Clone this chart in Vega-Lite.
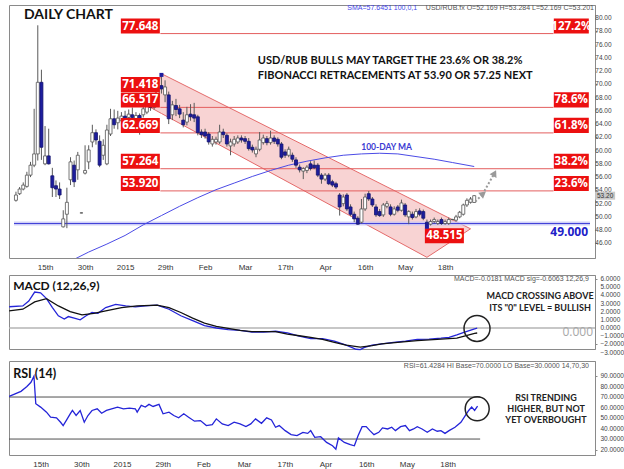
{
  "$schema": "https://vega.github.io/schema/vega-lite/v6.json",
  "background": "white",
  "padding": {"left": 6, "top": 3, "right": 0, "bottom": 0},
  "bounds": "flush",
  "spacing": 17,
  "config": {
    "view": {"stroke": "#8a8a8a", "strokeWidth": 1},
    "axis": {"labelFont": "Liberation Sans", "labelColor": "#444444", "domainColor": "#8a8a8a", "tickColor": "#8a8a8a", "grid": false, "title": null, "labelOverlap": false},
    "text": {"font": "Lato"}
  },
  "datasets": {
    "one": [{}],
    "ticksMain": [{"t":46},{"t":48},{"t":50},{"t":52},{"t":54},{"t":56},{"t":58},{"t":60},{"t":62},{"t":64},{"t":66},{"t":68},{"t":70},{"t":72},{"t":74},{"t":76},{"t":78},{"t":80}],
    "ticksMacd": [{"t":-3},{"t":-2},{"t":-1},{"t":0},{"t":1},{"t":2},{"t":3},{"t":4},{"t":5},{"t":6}],
    "ticksRsi": [{"t":20},{"t":30},{"t":40},{"t":50},{"t":60},{"t":70},{"t":80},{"t":90}],
    "candles": [
      {"i":0,"o":52.5,"h":53.8,"l":52.3,"c":53.3},{"i":1,"o":53.5,"h":54.5,"l":53.3,"c":54.2},{"i":2,"o":54.2,"h":55.2,"l":54.0,"c":54.8},{"i":3,"o":54.6,"h":56.8,"l":54.4,"c":56.3},{"i":4,"o":56.3,"h":58.3,"l":56.0,"c":57.8},{"i":5,"o":57.8,"h":66.3,"l":57.5,"c":59.5},{"i":6,"o":59.5,"h":78.9,"l":58.5,"c":70.3},{"i":7,"o":70.3,"h":72.2,"l":58.6,"c":60.5},{"i":8,"o":58.0,"h":63.7,"l":57.8,"c":59.2},{"i":9,"o":59.2,"h":63.3,"l":57.9,"c":58.0},
      {"i":10,"o":56.2,"h":57.4,"l":53.0,"c":54.4},{"i":11,"o":54.7,"h":55.5,"l":53.0,"c":54.2},{"i":12,"o":54.2,"h":55.2,"l":52.7,"c":53.3},{"i":13,"o":48.5,"h":51.0,"l":48.4,"c":49.7},{"i":14,"o":50.4,"h":54.4,"l":48.3,"c":52.2},{"i":15,"o":55.6,"h":59.0,"l":54.8,"c":58.3},{"i":16,"o":57.8,"h":58.5,"l":54.5,"c":55.3},{"i":17,"o":57.1,"h":59.8,"l":55.6,"c":59.3},{"i":18,"o":50.6,"h":50.65,"l":50.55,"c":50.6},{"i":19,"o":56.6,"h":60.8,"l":56.4,"c":57.0},
      {"i":20,"o":58.3,"h":60.8,"l":57.2,"c":60.1},{"i":21,"o":61.3,"h":63.9,"l":60.5,"c":62.7},{"i":22,"o":62.7,"h":63.2,"l":60.9,"c":61.6},{"i":23,"o":61.4,"h":62.3,"l":57.5,"c":57.8},{"i":24,"o":59.3,"h":61.7,"l":58.6,"c":60.8},{"i":25,"o":58.0,"h":63.9,"l":57.8,"c":63.1},{"i":26,"o":62.5,"h":66.3,"l":62.2,"c":64.8},{"i":27,"o":64.8,"h":66.2,"l":63.3,"c":63.9},{"i":28,"o":64.2,"h":66.0,"l":63.2,"c":64.9},{"i":29,"o":64.5,"h":65.8,"l":63.8,"c":65.2},
      {"i":30,"o":65.2,"h":66.0,"l":64.2,"c":64.8},{"i":31,"o":65.0,"h":66.2,"l":64.5,"c":65.5},{"i":32,"o":65.4,"h":66.5,"l":63.0,"c":65.0},{"i":33,"o":64.8,"h":65.8,"l":64.0,"c":65.3},{"i":34,"o":65.3,"h":65.6,"l":62.4,"c":64.5},{"i":35,"o":65.4,"h":66.8,"l":65.0,"c":66.3},{"i":36,"o":65.8,"h":67.8,"l":65.5,"c":67.3},{"i":37,"o":67.0,"h":67.8,"l":66.0,"c":66.5},{"i":38,"o":66.5,"h":68.5,"l":66.2,"c":68.0},{"i":39,"o":68.0,"h":70.3,"l":67.6,"c":69.5},
      {"i":40,"o":69.8,"h":71.418,"l":68.6,"c":69.3},{"i":41,"o":68.4,"h":70.6,"l":67.3,"c":69.6},{"i":42,"o":68.4,"h":68.9,"l":64.0,"c":64.8},{"i":43,"o":65.4,"h":67.5,"l":64.6,"c":66.9},{"i":44,"o":66.8,"h":67.8,"l":65.2,"c":66.2},{"i":45,"o":66.3,"h":66.9,"l":64.9,"c":65.5},{"i":46,"o":64.6,"h":65.8,"l":63.5,"c":63.9},{"i":47,"o":64.3,"h":66.6,"l":63.8,"c":65.4},{"i":48,"o":65.5,"h":67.0,"l":64.5,"c":65.1},{"i":49,"o":65.4,"h":67.2,"l":64.3,"c":64.9},
      {"i":50,"o":65.1,"h":65.4,"l":62.3,"c":62.7},{"i":51,"o":62.8,"h":63.2,"l":61.9,"c":62.4},{"i":52,"o":62.8,"h":63.3,"l":61.8,"c":62.2},{"i":53,"o":62.5,"h":62.8,"l":60.9,"c":61.3},{"i":54,"o":61.0,"h":62.2,"l":60.6,"c":61.7},{"i":55,"o":61.3,"h":62.1,"l":60.9,"c":61.7},{"i":56,"o":61.3,"h":63.9,"l":61.0,"c":62.8},{"i":57,"o":62.8,"h":63.3,"l":61.9,"c":62.4},{"i":58,"o":62.3,"h":62.6,"l":60.6,"c":61.0},{"i":59,"o":60.7,"h":61.8,"l":59.3,"c":61.3},
      {"i":60,"o":61.0,"h":62.2,"l":60.6,"c":61.7},{"i":61,"o":61.3,"h":62.3,"l":61.0,"c":61.9},{"i":62,"o":61.9,"h":62.3,"l":61.2,"c":61.6},{"i":63,"o":61.8,"h":62.2,"l":61.0,"c":61.4},{"i":64,"o":61.4,"h":61.9,"l":60.0,"c":60.3},{"i":65,"o":60.5,"h":60.9,"l":59.7,"c":60.1},{"i":66,"o":59.5,"h":60.6,"l":59.0,"c":60.2},{"i":67,"o":60.2,"h":62.8,"l":59.9,"c":61.6},{"i":68,"o":61.2,"h":62.4,"l":60.9,"c":61.9},{"i":69,"o":61.8,"h":62.2,"l":60.8,"c":61.2},
      {"i":70,"o":61.2,"h":63.0,"l":60.9,"c":61.9},{"i":71,"o":61.9,"h":62.3,"l":61.0,"c":61.4},{"i":72,"o":61.7,"h":62.0,"l":60.6,"c":61.0},{"i":73,"o":61.0,"h":61.3,"l":58.7,"c":59.0},{"i":74,"o":59.8,"h":60.2,"l":58.9,"c":59.3},{"i":75,"o":59.3,"h":60.6,"l":59.0,"c":60.2},{"i":76,"o":59.3,"h":59.7,"l":58.3,"c":58.7},{"i":77,"o":58.6,"h":59.0,"l":57.4,"c":57.8},{"i":78,"o":57.5,"h":57.9,"l":56.7,"c":57.1},{"i":79,"o":56.9,"h":57.5,"l":55.7,"c":57.3},
      {"i":80,"o":57.0,"h":57.8,"l":56.6,"c":57.5},{"i":81,"o":58.0,"h":58.4,"l":57.0,"c":57.3},{"i":82,"o":57.8,"h":58.5,"l":57.2,"c":57.4},{"i":83,"o":57.8,"h":58.1,"l":56.0,"c":56.3},{"i":84,"o":56.3,"h":56.6,"l":55.0,"c":55.7},{"i":85,"o":55.7,"h":56.6,"l":55.4,"c":56.3},{"i":86,"o":56.3,"h":56.6,"l":54.8,"c":55.0},{"i":87,"o":55.3,"h":55.6,"l":54.5,"c":54.8},{"i":88,"o":55.0,"h":55.3,"l":54.2,"c":54.5},{"i":89,"o":53.3,"h":53.6,"l":50.2,"c":51.5},
      {"i":90,"o":52.0,"h":53.4,"l":51.6,"c":53.0},{"i":91,"o":53.3,"h":53.6,"l":50.9,"c":51.2},{"i":92,"o":51.5,"h":51.9,"l":50.1,"c":50.4},{"i":93,"o":50.4,"h":50.8,"l":49.2,"c":49.7},{"i":94,"o":49.8,"h":50.1,"l":48.8,"c":48.9},{"i":95,"o":49.2,"h":52.7,"l":49.0,"c":51.2},{"i":96,"o":51.2,"h":53.5,"l":50.9,"c":53.0},{"i":97,"o":53.5,"h":53.9,"l":52.4,"c":52.7},{"i":98,"o":52.7,"h":53.0,"l":51.5,"c":51.8},{"i":99,"o":51.5,"h":51.9,"l":50.0,"c":50.3},
      {"i":100,"o":50.8,"h":51.2,"l":50.0,"c":50.2},{"i":101,"o":50.3,"h":52.1,"l":50.0,"c":51.8},{"i":102,"o":51.6,"h":52.4,"l":51.3,"c":52.0},{"i":103,"o":51.5,"h":51.9,"l":50.1,"c":50.4},{"i":104,"o":50.4,"h":51.6,"l":50.2,"c":51.2},{"i":105,"o":51.5,"h":51.8,"l":50.7,"c":51.0},{"i":106,"o":51.0,"h":52.6,"l":50.8,"c":52.1},{"i":107,"o":51.8,"h":52.1,"l":50.0,"c":50.3},{"i":108,"o":50.0,"h":51.0,"l":48.9,"c":50.8},{"i":109,"o":50.4,"h":50.8,"l":49.6,"c":49.9},
      {"i":110,"o":50.0,"h":51.2,"l":49.8,"c":50.8},{"i":111,"o":50.9,"h":51.3,"l":50.1,"c":50.4},{"i":112,"o":50.8,"h":51.1,"l":49.5,"c":49.8},{"i":113,"o":49.2,"h":49.6,"l":48.515,"c":48.8},{"i":114,"o":48.9,"h":49.6,"l":48.7,"c":49.3},{"i":115,"o":49.3,"h":49.9,"l":49.0,"c":49.6},{"i":116,"o":49.0,"h":49.6,"l":48.8,"c":49.3},{"i":117,"o":49.6,"h":49.9,"l":48.8,"c":49.0},{"i":118,"o":49.0,"h":49.6,"l":48.8,"c":49.3},{"i":119,"o":49.0,"h":49.9,"l":48.8,"c":49.6},
      {"i":120,"o":49.6,"h":49.7,"l":49.5,"c":49.62},{"i":121,"o":49.5,"h":50.3,"l":49.3,"c":50.0},{"i":122,"o":50.0,"h":50.9,"l":49.8,"c":50.7},{"i":123,"o":50.4,"h":52.0,"l":50.2,"c":51.8},{"i":124,"o":51.8,"h":52.8,"l":51.5,"c":52.5},{"i":125,"o":52.2,"h":53.0,"l":52.0,"c":52.7},{"i":126,"o":52.169,"h":53.284,"l":52.169,"c":53.201}
    ],
    "ma": [
      {"i":16,"v":43.6},{"i":20,"v":44.7},{"i":25,"v":45.9},{"i":30,"v":47.2},{"i":35,"v":48.8},{"i":40,"v":50.2},{"i":45,"v":51.6},{"i":50,"v":52.9},{"i":55,"v":54.1},{"i":60,"v":55.1},{"i":65,"v":56.1},{"i":70,"v":57.0},{"i":75,"v":57.8},{"i":80,"v":58.4},{"i":85,"v":58.9},{"i":90,"v":59.3},{"i":95,"v":59.5},{"i":100,"v":59.6},{"i":105,"v":59.5},{"i":110,"v":59.1},{"i":115,"v":58.7},{"i":120,"v":58.2},{"i":126,"v":57.6}
    ],
    "channel": [
      {"i":37,"hi":66.5,"lo":66.5},{"i":40,"hi":71.6,"lo":65.6},{"i":113,"hi":51.5,"lo":43.9},{"i":125,"hi":48.2,"lo":48.2}
    ],
    "fib": [
      {"price":77.648,"pct":"127.2%"},{"price":66.517,"pct":"78.6%"},{"price":62.669,"pct":"61.8%"},{"price":57.264,"pct":"38.2%"},{"price":53.92,"pct":"23.6%"}
    ],
    "extremes": [
      {"price":71.418,"kind":"high"},{"price":48.515,"kind":"low"}
    ],
    "arrows": [
      {"seg":1,"i":126.3,"v":52.3},{"seg":1,"i":128.5,"v":53.5},{"seg":2,"i":128.8,"v":53.9},{"seg":2,"i":131.6,"v":56.6}
    ],
    "macd": [
      {"line":"MACD","i":-0.5,"v":2.6},{"line":"MACD","i":3.2,"v":2.7},{"line":"MACD","i":4.8,"v":3.3},{"line":"MACD","i":6.4,"v":4.4},{"line":"MACD","i":8.0,"v":4.3},{"line":"MACD","i":9.6,"v":3.6},{"line":"MACD","i":11.2,"v":2.5},{"line":"MACD","i":12.8,"v":1.5},{"line":"MACD","i":14.4,"v":1.1},{"line":"MACD","i":15.5,"v":1.4},{"line":"MACD","i":17.1,"v":1.2},{"line":"MACD","i":18.7,"v":1.0},{"line":"MACD","i":20.3,"v":1.5},{"line":"MACD","i":21.9,"v":1.9},{"line":"MACD","i":23.5,"v":1.8},{"line":"MACD","i":25.6,"v":2.5},{"line":"MACD","i":28.3,"v":2.9},{"line":"MACD","i":31.0,"v":2.7},{"line":"MACD","i":33.6,"v":2.6},{"line":"MACD","i":36.3,"v":2.7},{"line":"MACD","i":39.5,"v":2.8},{"line":"MACD","i":42.7,"v":2.3},{"line":"MACD","i":45.9,"v":1.5},{"line":"MACD","i":49.1,"v":0.9},{"line":"MACD","i":52.3,"v":0.3},{"line":"MACD","i":55.5,"v":0.0},{"line":"MACD","i":58.7,"v":-0.2},{"line":"MACD","i":61.9,"v":-0.3},{"line":"MACD","i":65.1,"v":-0.5},{"line":"MACD","i":68.3,"v":-0.5},{"line":"MACD","i":71.5,"v":-0.4},{"line":"MACD","i":74.7,"v":-0.6},{"line":"MACD","i":77.9,"v":-1.0},{"line":"MACD","i":81.0,"v":-1.3},{"line":"MACD","i":84.2,"v":-1.3},{"line":"MACD","i":87.4,"v":-1.6},{"line":"MACD","i":90.6,"v":-2.1},{"line":"MACD","i":93.3,"v":-2.6},{"line":"MACD","i":94.4,"v":-2.65},{"line":"MACD","i":95.4,"v":-2.4},{"line":"MACD","i":97.6,"v":-2.1},{"line":"MACD","i":100.2,"v":-1.95},{"line":"MACD","i":103.4,"v":-1.75},{"line":"MACD","i":106.6,"v":-1.6},{"line":"MACD","i":109.8,"v":-1.4},{"line":"MACD","i":113.0,"v":-1.35},{"line":"MACD","i":116.2,"v":-1.25},{"line":"MACD","i":118.4,"v":-1.15},{"line":"MACD","i":120.5,"v":-0.85},{"line":"MACD","i":122.6,"v":-0.5},{"line":"MACD","i":125.3,"v":-0.1},{"line":"MACD","i":126,"v":-0.02},
      {"line":"Signal","i":-0.5,"v":2.1},{"line":"Signal","i":3.2,"v":2.3},{"line":"Signal","i":6.4,"v":3.2},{"line":"Signal","i":9.6,"v":3.6},{"line":"Signal","i":12.8,"v":2.7},{"line":"Signal","i":16.0,"v":2.0},{"line":"Signal","i":19.2,"v":1.6},{"line":"Signal","i":22.4,"v":1.8},{"line":"Signal","i":25.6,"v":2.1},{"line":"Signal","i":29.9,"v":2.5},{"line":"Signal","i":34.1,"v":2.7},{"line":"Signal","i":39.5,"v":2.8},{"line":"Signal","i":42.7,"v":2.5},{"line":"Signal","i":45.9,"v":1.9},{"line":"Signal","i":49.1,"v":1.2},{"line":"Signal","i":52.3,"v":0.6},{"line":"Signal","i":55.5,"v":0.2},{"line":"Signal","i":58.7,"v":-0.04},{"line":"Signal","i":61.9,"v":-0.3},{"line":"Signal","i":65.1,"v":-0.45},{"line":"Signal","i":68.3,"v":-0.45},{"line":"Signal","i":71.5,"v":-0.45},{"line":"Signal","i":74.7,"v":-0.75},{"line":"Signal","i":77.9,"v":-0.95},{"line":"Signal","i":81.0,"v":-1.15},{"line":"Signal","i":84.2,"v":-1.4},{"line":"Signal","i":87.4,"v":-1.75},{"line":"Signal","i":90.6,"v":-2.1},{"line":"Signal","i":94.4,"v":-2.35},{"line":"Signal","i":97.6,"v":-2.15},{"line":"Signal","i":100.2,"v":-1.95},{"line":"Signal","i":104.5,"v":-1.75},{"line":"Signal","i":109.8,"v":-1.55},{"line":"Signal","i":115.2,"v":-1.4},{"line":"Signal","i":120.5,"v":-1.25},{"line":"Signal","i":125.3,"v":-0.65},{"line":"Signal","i":126,"v":-0.61}
    ],
    "rsi": [
      {"i":-0.5,"v":70.6},{"i":1.1,"v":73},{"i":2.7,"v":75.4},{"i":4.3,"v":80},{"i":5.4,"v":84},{"i":6.2,"v":89.8},{"i":6.7,"v":63.6},{"i":8.0,"v":60.4},{"i":9.6,"v":55.6},{"i":10.7,"v":50.8},{"i":12.3,"v":50.2},{"i":13.4,"v":46},{"i":14.1,"v":42.8},{"i":15.0,"v":48},{"i":16.0,"v":54},{"i":16.6,"v":57.2},{"i":17.6,"v":52.4},{"i":18.7,"v":57.2},{"i":19.8,"v":46},{"i":20.8,"v":52.4},{"i":21.9,"v":57.2},{"i":23.3,"v":58.8},{"i":24.5,"v":54.6},{"i":25.8,"v":57.2},{"i":27.2,"v":58.8},{"i":28.8,"v":60.4},{"i":30.4,"v":58.8},{"i":32.0,"v":59.4},{"i":33.6,"v":58.8},{"i":34.1,"v":55.6},{"i":35.2,"v":62},{"i":36.3,"v":60.4},{"i":37.3,"v":63},{"i":38.4,"v":61},{"i":40.0,"v":63},{"i":41.1,"v":54},{"i":42.7,"v":55.6},{"i":44.0,"v":52.4},{"i":45.3,"v":50.2},{"i":46.7,"v":54},{"i":48.0,"v":50.8},{"i":49.6,"v":47},{"i":51.2,"v":47.6},{"i":52.8,"v":42.8},{"i":54.4,"v":43.8},{"i":55.5,"v":49.2},{"i":57.1,"v":44.4},{"i":58.7,"v":42.8},{"i":60.3,"v":46},{"i":61.9,"v":44.4},{"i":63.5,"v":41.8},{"i":64.8,"v":44.4},{"i":66.1,"v":49.2},{"i":67.7,"v":45},{"i":69.1,"v":50.2},{"i":70.4,"v":48.2},{"i":71.5,"v":41.2},{"i":72.5,"v":42.8},{"i":74.1,"v":38},{"i":75.7,"v":34.2},{"i":77.3,"v":33.2},{"i":78.9,"v":36.4},{"i":80.2,"v":35.4},{"i":81.0,"v":38},{"i":82.1,"v":31.6},{"i":83.7,"v":32.2},{"i":85.3,"v":26.8},{"i":86.9,"v":23.6},{"i":87.8,"v":20.4},{"i":88.5,"v":31},{"i":90.1,"v":26.8},{"i":91.7,"v":24.6},{"i":92.8,"v":23.6},{"i":93.8,"v":33.2},{"i":94.9,"v":41.8},{"i":96.0,"v":41.8},{"i":97.0,"v":38},{"i":98.1,"v":34.2},{"i":99.4,"v":36.4},{"i":100.4,"v":40.6},{"i":101.8,"v":39.6},{"i":102.9,"v":41.2},{"i":103.9,"v":38},{"i":105.3,"v":41.8},{"i":106.6,"v":42.8},{"i":107.7,"v":38},{"i":108.8,"v":39.6},{"i":109.8,"v":41.8},{"i":111.1,"v":39.6},{"i":112.5,"v":36.4},{"i":113.9,"v":39.6},{"i":115.2,"v":37.4},{"i":116.2,"v":38},{"i":117.3,"v":35.4},{"i":118.4,"v":38},{"i":120.0,"v":41.2},{"i":121.6,"v":46},{"i":122.6,"v":51.4},{"i":123.7,"v":57.2},{"i":124.5,"v":60.4},{"i":125.3,"v":57.2},{"i":126.1,"v":61.4}
    ]
  },
  "vconcat": [
    {
      "width": 586,
      "height": 253,
      "layer": [
        {
          "data": {"name": "channel"},
          "mark": {"type": "area", "fill": "#f6c4c4", "fillOpacity": 0.75, "stroke": "#e46a6a", "strokeWidth": 1},
          "encoding": {
            "x": {"field": "i", "type": "quantitative", "scale": {"domain": [-0.54, 157.84], "nice": false, "zero": false},
              "axis": {"values": [8,19,30,41,52,63,74,85,96,107,118], "labelExpr": "['15th','30th','2015','29th','Feb','Mar','17th','Apr','16th','May','18th'][round((datum.value-8)/11)]", "ticks": false, "domain": false, "labelFontSize": 8, "labelPadding": 5, "labelColor": "#333333", "labelOverlap": false}},
            "y": {"field": "hi", "type": "quantitative", "scale": {"domain": [43.8, 81.96], "nice": false, "zero": false},
              "axis": {"orient": "right", "values": [46,48,50,52,54,56,58,60,62,64,66,68,70,72,74,76,78,80], "labels": false, "tickSize": 2}},
            "y2": {"field": "lo"}
          }
        },
        {
          "data": {"name": "ticksMain"},
          "mark": {"type": "text", "font": "Liberation Sans", "fontSize": 6.5, "color": "#444444", "align": "left", "baseline": "middle"},
          "encoding": {
            "x": {"datum": 159.3, "type": "quantitative"},
            "y": {"field": "t", "type": "quantitative"},
            "text": {"field": "t", "type": "quantitative", "format": ".2f"}
          }
        },
        {
          "data": {"name": "fib"},
          "mark": {"type": "rule", "color": "#e35e5e", "strokeWidth": 1},
          "encoding": {
            "x": {"datum": 39.7, "type": "quantitative"},
            "x2": {"datum": 147.8},
            "y": {"field": "price", "type": "quantitative"}
          }
        },
        {
          "data": {"values": [{"price": 49.0}]},
          "layer": [
            {"mark": {"type": "rule", "color": "#c4c4f4", "strokeWidth": 4, "opacity": 0.8},
             "encoding": {"x": {"datum": -0.54, "type": "quantitative"}, "x2": {"datum": 157.84}, "y": {"field": "price", "type": "quantitative"}}},
            {"mark": {"type": "rule", "color": "#4040d8", "strokeWidth": 1},
             "encoding": {"x": {"datum": -0.54, "type": "quantitative"}, "x2": {"datum": 157.84}, "y": {"field": "price", "type": "quantitative"}}},
            {"mark": {"type": "text", "text": "49.000", "font": "Open Sans", "fontWeight": "bold", "fontSize": 12, "color": "#2020c8", "align": "right", "baseline": "top", "dy": 3},
             "encoding": {"x": {"datum": 157.3, "type": "quantitative"}, "y": {"field": "price", "type": "quantitative"}}}
          ]
        },
        {
          "data": {"name": "ma"},
          "mark": {"type": "line", "color": "#4b4be6", "strokeWidth": 1, "clip": true},
          "encoding": {
            "x": {"field": "i", "type": "quantitative"},
            "y": {"field": "v", "type": "quantitative"}
          }
        },
        {
          "data": {"name": "candles"},
          "mark": {"type": "rule", "color": "#5a5a5a", "strokeWidth": 1},
          "encoding": {
            "x": {"field": "i", "type": "quantitative"},
            "y": {"field": "l", "type": "quantitative"},
            "y2": {"field": "h"}
          }
        },
        {
          "data": {"name": "candles"},
          "mark": {"type": "bar", "size": 3, "strokeWidth": 0.8},
          "encoding": {
            "x": {"field": "i", "type": "quantitative"},
            "y": {"field": "o", "type": "quantitative"},
            "y2": {"field": "c"},
            "fill": {"condition": {"test": "datum.c < datum.o", "value": "#1d1d9e"}, "value": "#ffffff"},
            "stroke": {"condition": {"test": "datum.c < datum.o", "value": "#14146e"}, "value": "#555555"}
          }
        },
        {
          "data": {"name": "fib"},
          "layer": [
            {"mark": {"type": "point", "shape": "M-1,-0.385H1V0.385H-1Z", "size": 1521, "filled": true, "color": "#ec1010", "opacity": 1, "yOffset": -7.5},
             "encoding": {"x": {"datum": 34.2, "type": "quantitative"}, "y": {"field": "price", "type": "quantitative"}}},
            {"mark": {"type": "text", "font": "Open Sans", "fontWeight": "bold", "fontSize": 11.5, "color": "#ffffff", "align": "center", "baseline": "middle", "yOffset": -7},
             "encoding": {"x": {"datum": 34.2, "type": "quantitative"}, "y": {"field": "price", "type": "quantitative"}, "text": {"field": "price", "type": "quantitative", "format": ".3f"}}},
            {"mark": {"type": "point", "shape": "M-1,-0.43H1V0.43H-1Z", "size": 1225, "filled": true, "color": "#ec1010", "opacity": 1, "yOffset": -7.5},
             "encoding": {"x": {"datum": 152.7, "type": "quantitative"}, "y": {"field": "price", "type": "quantitative"}}},
            {"mark": {"type": "text", "font": "Open Sans", "fontWeight": "bold", "fontSize": 11.5, "color": "#ffffff", "align": "center", "baseline": "middle", "yOffset": -7},
             "encoding": {"x": {"datum": 152.7, "type": "quantitative"}, "y": {"field": "price", "type": "quantitative"}, "text": {"field": "pct", "type": "nominal"}}}
          ]
        },
        {
          "data": {"name": "extremes"},
          "transform": [{"filter": "datum.kind == 'high'"}],
          "layer": [
            {"mark": {"type": "point", "shape": "M-1,-0.385H1V0.385H-1Z", "size": 1521, "filled": true, "color": "#ec1010", "opacity": 1, "yOffset": 9.5},
             "encoding": {"x": {"datum": 34.2, "type": "quantitative"}, "y": {"field": "price", "type": "quantitative"}}},
            {"mark": {"type": "text", "font": "Open Sans", "fontWeight": "bold", "fontSize": 11.5, "color": "#ffffff", "align": "center", "baseline": "middle", "yOffset": 10},
             "encoding": {"x": {"datum": 34.2, "type": "quantitative"}, "y": {"field": "price", "type": "quantitative"}, "text": {"field": "price", "type": "quantitative", "format": ".3f"}}},
            {"mark": {"type": "point", "shape": "square", "size": 16, "filled": true, "color": "#1d1d9e", "opacity": 1},
             "encoding": {"x": {"datum": 40, "type": "quantitative"}, "y": {"field": "price", "type": "quantitative"}}}
          ]
        },
        {
          "data": {"name": "extremes"},
          "transform": [{"filter": "datum.kind == 'low'"}],
          "layer": [
            {"mark": {"type": "point", "shape": "M-1,-0.385H1V0.385H-1Z", "size": 1521, "filled": true, "color": "#ec1010", "opacity": 1, "yOffset": 9},
             "encoding": {"x": {"datum": 117.8, "type": "quantitative"}, "y": {"field": "price", "type": "quantitative"}}},
            {"mark": {"type": "text", "font": "Open Sans", "fontWeight": "bold", "fontSize": 11.5, "color": "#ffffff", "align": "center", "baseline": "middle", "yOffset": 9.5},
             "encoding": {"x": {"datum": 117.8, "type": "quantitative"}, "y": {"field": "price", "type": "quantitative"}, "text": {"field": "price", "type": "quantitative", "format": ".3f"}}},
            {"mark": {"type": "point", "shape": "square", "size": 16, "filled": true, "color": "#1d1d9e", "opacity": 1},
             "encoding": {"x": {"datum": 113, "type": "quantitative"}, "y": {"field": "price", "type": "quantitative"}}}
          ]
        },
        {
          "data": {"name": "arrows"},
          "layer": [
            {"mark": {"type": "line", "color": "#9a9a9a", "strokeWidth": 2, "strokeDash": [2, 2]},
             "encoding": {"x": {"field": "i", "type": "quantitative"}, "y": {"field": "v", "type": "quantitative"}, "detail": {"field": "seg"}}},
            {"transform": [{"filter": "datum.seg == 1 && datum.i > 127"}],
             "mark": {"type": "point", "shape": "triangle-up", "size": 60, "filled": true, "color": "#9a9a9a", "opacity": 1, "angle": 52},
             "encoding": {"x": {"field": "i", "type": "quantitative"}, "y": {"field": "v", "type": "quantitative"}}},
            {"transform": [{"filter": "datum.seg == 2 && datum.i > 130"}],
             "mark": {"type": "point", "shape": "triangle-up", "size": 60, "filled": true, "color": "#9a9a9a", "opacity": 1, "angle": 27},
             "encoding": {"x": {"field": "i", "type": "quantitative"}, "y": {"field": "v", "type": "quantitative"}}}
          ]
        },
        {
          "data": {"values": [{"price": 53.201}]},
          "layer": [
            {"mark": {"type": "point", "shape": "M-1,-0.4H1V0.4H-1Z", "size": 400, "filled": true, "color": "#c8c8c8", "opacity": 1},
             "encoding": {"x": {"datum": 162.0, "type": "quantitative"}, "y": {"field": "price", "type": "quantitative"}}},
            {"mark": {"type": "text", "font": "Liberation Sans", "fontSize": 6.5, "color": "#333333", "align": "center", "baseline": "middle"},
             "encoding": {"x": {"datum": 162.0, "type": "quantitative"}, "y": {"field": "price", "type": "quantitative"}, "text": {"field": "price", "type": "quantitative", "format": ".2f"}}}
          ]
        },
        {
          "data": {"name": "one"},
          "layer": [
            {"mark": {"type": "text", "text": "DAILY CHART", "fontWeight": "bold", "fontSize": 14, "color": "#111111", "align": "left", "baseline": "middle"},
             "encoding": {"x": {"datum": 2.2, "type": "quantitative"}, "y": {"datum": 80.5, "type": "quantitative"}}},
            {"mark": {"type": "text", "text": "USD/RUB BULLS MAY TARGET THE 23.6% OR 38.2%", "fontWeight": "bold", "fontSize": 11, "color": "#111111", "align": "left", "baseline": "middle"},
             "encoding": {"x": {"datum": 66.5, "type": "quantitative"}, "y": {"datum": 73.5, "type": "quantitative"}}},
            {"mark": {"type": "text", "text": "FIBONACCI RETRACEMENTS AT 53.90 OR 57.25 NEXT", "fontWeight": "bold", "fontSize": 11, "color": "#111111", "align": "left", "baseline": "middle"},
             "encoding": {"x": {"datum": 66.5, "type": "quantitative"}, "y": {"datum": 71.2, "type": "quantitative"}}},
            {"mark": {"type": "text", "text": "100-DAY MA", "fontWeight": "bold", "fontSize": 8.5, "color": "#3a3ad2", "align": "center", "baseline": "middle"},
             "encoding": {"x": {"datum": 101.9, "type": "quantitative"}, "y": {"datum": 60.55, "type": "quantitative"}}},
            {"mark": {"type": "text", "text": "SMA=57.6451  100,0,1", "font": "Liberation Sans", "fontSize": 7, "color": "#4545e8", "align": "left", "baseline": "middle"},
             "encoding": {"x": {"datum": 91.1, "type": "quantitative"}, "y": {"datum": 81.5, "type": "quantitative"}}},
            {"mark": {"type": "text", "text": "USD/RUB.fx O=52.169 H=53.284 L=52.169 C=53.201", "font": "Liberation Sans", "fontSize": 7, "color": "#555555", "align": "left", "baseline": "middle"},
             "encoding": {"x": {"datum": 112.7, "type": "quantitative"}, "y": {"datum": 81.5, "type": "quantitative"}}}
          ]
        }
      ]
    },
    {
      "bounds": "flush",
      "spacing": 12,
      "vconcat": [
        {
          "width": 586,
          "height": 74,
          "layer": [
            {
              "data": {"values": [{"v": 0}]},
              "mark": {"type": "rule", "color": "#b4b4b4", "strokeWidth": 1.5},
              "encoding": {
                "x": {"datum": -0.54, "type": "quantitative", "scale": {"domain": [-0.54, 157.84], "nice": false, "zero": false}, "axis": null},
                "x2": {"datum": 157.84},
                "y": {"field": "v", "type": "quantitative", "scale": {"domain": [-2.57, 6.49], "nice": false, "zero": false},
                  "axis": {"orient": "right", "values": [-2,-1,0,1,2,3,4,5,6], "labels": false, "tickSize": 2}}
              }
            },
            {
              "data": {"name": "ticksMacd"},
              "mark": {"type": "text", "font": "Liberation Sans", "fontSize": 6.5, "color": "#444444", "align": "left", "baseline": "middle"},
              "encoding": {
                "x": {"datum": 159.3, "type": "quantitative"},
                "y": {"field": "t", "type": "quantitative"},
                "text": {"field": "t", "type": "quantitative", "format": ".4f"}
              }
            },
            {
              "data": {"name": "macd"},
              "mark": {"type": "line", "strokeWidth": 1.3},
              "encoding": {
                "x": {"field": "i", "type": "quantitative"},
                "y": {"field": "v", "type": "quantitative"},
                "color": {"field": "line", "type": "nominal", "scale": {"domain": ["MACD", "Signal"], "range": ["#2424d8", "#111111"]}, "legend": null},
                "order": {"field": "i", "type": "quantitative"}
              }
            },
            {
              "data": {"name": "one"},
              "layer": [
                {"mark": {"type": "point", "shape": "circle", "size": 676, "filled": false, "stroke": "#222222", "strokeWidth": 1.5, "opacity": 1},
                 "encoding": {"x": {"datum": 125.95, "type": "quantitative"}, "y": {"datum": -0.05, "type": "quantitative"}}},
                {"mark": {"type": "text", "text": "MACD (12,26,9)", "fontWeight": "bold", "fontSize": 12, "color": "#111111", "align": "left", "baseline": "middle"},
                 "encoding": {"x": {"datum": 0.6, "type": "quantitative"}, "y": {"datum": 5.2, "type": "quantitative"}}},
                {"mark": {"type": "text", "text": "MACD=-0.0181 MACD sig=-0.6063  12,26,9", "font": "Liberation Sans", "fontSize": 7, "color": "#555555", "align": "right", "baseline": "middle"},
                 "encoding": {"x": {"datum": 156.2, "type": "quantitative"}, "y": {"datum": 6.0, "type": "quantitative"}}},
                {"mark": {"type": "text", "text": "MACD CROSSING ABOVE", "fontWeight": "bold", "fontSize": 9, "color": "#222222", "align": "center", "baseline": "middle"},
                 "encoding": {"x": {"datum": 143.0, "type": "quantitative"}, "y": {"datum": 3.9, "type": "quantitative"}}},
                {"mark": {"type": "text", "text": "ITS \"0\" LEVEL = BULLISH", "fontWeight": "bold", "fontSize": 9, "color": "#222222", "align": "center", "baseline": "middle"},
                 "encoding": {"x": {"datum": 143.0, "type": "quantitative"}, "y": {"datum": 2.5, "type": "quantitative"}}},
                {"mark": {"type": "text", "text": "0.000", "font": "Open Sans", "fontSize": 12, "color": "#a8a8a8", "align": "right", "baseline": "middle"},
                 "encoding": {"x": {"datum": 157.3, "type": "quantitative"}, "y": {"datum": -0.5, "type": "quantitative"}}}
              ]
            }
          ]
        },
        {
          "width": 586,
          "height": 94,
          "layer": [
            {
              "data": {"values": [{"v": 70}, {"v": 30}]},
              "mark": {"type": "rule", "color": "#505050", "strokeWidth": 1},
              "encoding": {
                "x": {"datum": -0.54, "type": "quantitative", "scale": {"domain": [-0.54, 157.84], "nice": false, "zero": false},
                  "axis": {"values": [8,19,30,41,52,63,74,85,96,107,118], "labelExpr": "['15th','30th','2015','29th','Feb','Mar','17th','Apr','16th','May','18th'][round((datum.value-8)/11)]", "ticks": false, "domain": false, "labelFontSize": 8, "labelPadding": 5, "labelColor": "#333333", "labelOverlap": false}},
                "x2": {"datum": 126.8},
                "y": {"field": "v", "type": "quantitative", "scale": {"domain": [14.8, 104.3], "nice": false, "zero": false},
                  "axis": {"orient": "right", "values": [20,30,40,50,60,70,80,90], "labels": false, "tickSize": 2}}
              }
            },
            {
              "data": {"name": "ticksRsi"},
              "mark": {"type": "text", "font": "Liberation Sans", "fontSize": 6.5, "color": "#444444", "align": "left", "baseline": "middle"},
              "encoding": {
                "x": {"datum": 159.3, "type": "quantitative"},
                "y": {"field": "t", "type": "quantitative"},
                "text": {"field": "t", "type": "quantitative", "format": ".4f"}
              }
            },
            {
              "data": {"name": "rsi"},
              "mark": {"type": "line", "color": "#2424d8", "strokeWidth": 1.3},
              "encoding": {
                "x": {"field": "i", "type": "quantitative"},
                "y": {"field": "v", "type": "quantitative"}
              }
            },
            {
              "data": {"name": "one"},
              "layer": [
                {"mark": {"type": "point", "shape": "circle", "size": 576, "filled": false, "stroke": "#222222", "strokeWidth": 1.5, "opacity": 1},
                 "encoding": {"x": {"datum": 126, "type": "quantitative"}, "y": {"datum": 58.9, "type": "quantitative"}}},
                {"mark": {"type": "text", "text": "RSI (14)", "fontWeight": "bold", "fontSize": 12.5, "color": "#111111", "align": "left", "baseline": "middle"},
                 "encoding": {"x": {"datum": 0.6, "type": "quantitative"}, "y": {"datum": 91.5, "type": "quantitative"}}},
                {"mark": {"type": "text", "text": "RSI=61.4284 HI Base=70.0000 LO Base=30.0000  14,70,30", "font": "Liberation Sans", "fontSize": 7, "color": "#555555", "align": "right", "baseline": "middle"},
                 "encoding": {"x": {"datum": 156.2, "type": "quantitative"}, "y": {"datum": 99.5, "type": "quantitative"}}},
                {"mark": {"type": "text", "text": "RSI TRENDING", "fontWeight": "bold", "fontSize": 9, "color": "#222222", "align": "center", "baseline": "middle"},
                 "encoding": {"x": {"datum": 144.6, "type": "quantitative"}, "y": {"datum": 69.0, "type": "quantitative"}}},
                {"mark": {"type": "text", "text": "HIGHER, BUT NOT", "fontWeight": "bold", "fontSize": 9, "color": "#222222", "align": "center", "baseline": "middle"},
                 "encoding": {"x": {"datum": 144.6, "type": "quantitative"}, "y": {"datum": 58.6, "type": "quantitative"}}},
                {"mark": {"type": "text", "text": "YET OVERBOUGHT", "fontWeight": "bold", "fontSize": 9, "color": "#222222", "align": "center", "baseline": "middle"},
                 "encoding": {"x": {"datum": 144.6, "type": "quantitative"}, "y": {"datum": 48.1, "type": "quantitative"}}}
              ]
            }
          ]
        }
      ]
    }
  ]
}
